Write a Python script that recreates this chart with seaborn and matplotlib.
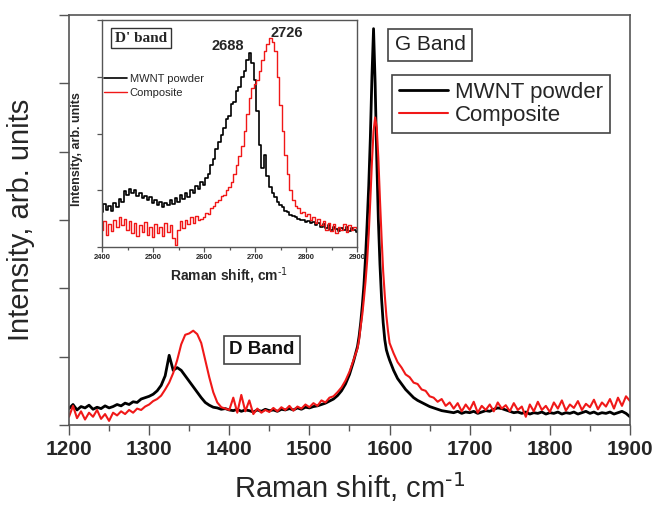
import numpy as np
import pandas as pd
import matplotlib
matplotlib.use("Agg")
import matplotlib.pyplot as plt
import seaborn as sns
from matplotlib.ticker import MultipleLocator, NullFormatter

# ---------------- data ----------------
wn_main = (list(range(1200, 1560, 5)) + list(range(1560, 1602, 2))
           + list(range(1605, 1905, 5)))

mwnt_main = [
    # 1200-1300
    0.24, 0.30, 0.22, 0.27, 0.25, 0.29, 0.23, 0.26, 0.24, 0.28,
    0.25, 0.27, 0.30, 0.28, 0.32, 0.30, 0.34, 0.33, 0.38, 0.40, 0.42,
    # 1305-1400
    0.45, 0.50, 0.58, 0.72, 1.02, 0.80, 0.84, 0.80, 0.72, 0.64,
    0.56, 0.48, 0.40, 0.33, 0.29, 0.26, 0.25, 0.23, 0.24, 0.22,
    # 1405-1555
    0.21, 0.23, 0.20, 0.22, 0.21, 0.19, 0.22, 0.20, 0.23, 0.21,
    0.22, 0.20, 0.23, 0.22, 0.24, 0.22, 0.25, 0.23, 0.26, 0.25,
    0.27, 0.28, 0.30, 0.32, 0.35, 0.38, 0.43, 0.50, 0.60, 0.74, 0.93,
    # 1560-1600 (step 2)
    1.15, 1.30, 1.50, 1.75, 2.05, 2.45, 2.95, 3.50, 4.20, 5.10,
    5.80, 5.00, 3.90, 3.00, 2.35, 1.85, 1.50, 1.25, 1.10, 1.02, 0.95,
    # 1605-1675
    0.80, 0.68, 0.60, 0.52, 0.46, 0.40, 0.36, 0.33, 0.30, 0.27,
    0.25, 0.23, 0.21, 0.20, 0.19,
    # 1680-1900
    0.18, 0.20, 0.17, 0.19, 0.18, 0.20, 0.17, 0.19, 0.21, 0.20,
    0.23, 0.25, 0.24, 0.22, 0.20, 0.18, 0.19, 0.17, 0.19, 0.16,
    0.18, 0.17, 0.19, 0.16, 0.18, 0.17, 0.19, 0.16, 0.18, 0.17,
    0.19, 0.16, 0.18, 0.20, 0.17, 0.19, 0.16, 0.18, 0.17, 0.19,
    0.16, 0.18, 0.20, 0.17, 0.12,
]

composite_main = [
    # 1200-1300
    0.12, 0.28, 0.10, 0.20, 0.08, 0.18, 0.12, 0.22, 0.09, 0.16,
    0.06, 0.18, 0.14, 0.20, 0.16, 0.22, 0.18, 0.24, 0.22, 0.27, 0.30,
    # 1305-1400
    0.35, 0.38, 0.43, 0.52, 0.62, 0.76, 0.95, 1.18, 1.32, 1.34,
    1.38, 1.33, 1.20, 0.95, 0.70, 0.48, 0.33, 0.26, 0.24, 0.22,
    # 1405-1555
    0.40, 0.18, 0.44, 0.20, 0.36, 0.16, 0.24, 0.18, 0.22, 0.19,
    0.25, 0.20, 0.26, 0.22, 0.28, 0.21, 0.27, 0.24, 0.30, 0.26,
    0.32, 0.28, 0.36, 0.33, 0.40, 0.42, 0.48, 0.55, 0.65, 0.78, 0.95,
    # 1560-1600 (step 2)
    1.12, 1.25, 1.45, 1.62, 1.85, 2.10, 2.40, 2.80, 3.30, 3.85,
    4.30, 4.50, 4.35, 3.90, 3.30, 2.75, 2.25, 1.90, 1.60, 1.38, 1.20,
    # 1605-1675
    1.05, 0.92, 0.84, 0.74, 0.70, 0.62, 0.60, 0.52, 0.50, 0.42,
    0.40, 0.34, 0.38, 0.28, 0.33,
    # 1680-1900
    0.24, 0.32, 0.20, 0.30, 0.22, 0.34, 0.18, 0.28, 0.22, 0.30,
    0.20, 0.33, 0.24, 0.29, 0.20, 0.32, 0.22, 0.27, 0.12, 0.30,
    0.20, 0.34, 0.22, 0.28, 0.19, 0.33, 0.24, 0.36, 0.21, 0.30,
    0.25, 0.35, 0.22, 0.31, 0.26, 0.37, 0.23, 0.33, 0.27, 0.38,
    0.24, 0.40, 0.28, 0.42, 0.35,
]

wn_inset = list(range(2400, 2905, 5))

mwnt_inset = [
    0.62, 0.75, 0.66, 0.72, 0.64, 0.78, 0.70, 0.85, 0.80, 0.98,
    0.92, 1.02, 0.95, 1.00, 0.90, 0.96, 0.86, 0.90, 0.82, 0.88,
    0.78, 0.82, 0.74, 0.80, 0.70, 0.78, 0.74, 0.82, 0.76, 0.86,
    0.80, 0.92, 0.84, 0.95, 0.88, 1.00, 0.95, 1.08, 1.02, 1.15,
    1.10, 1.22, 1.28, 1.45, 1.55, 1.72, 1.85, 1.98, 2.10, 2.25,
    2.30, 2.52, 2.55, 2.75, 2.82, 3.00, 3.10, 3.30, 3.42, 3.25,
    2.95, 2.40, 1.80, 1.40, 1.62, 1.25, 1.05, 0.95, 0.88, 0.80,
    0.74, 0.70, 0.64, 0.62, 0.56, 0.55, 0.52, 0.50, 0.47, 0.48,
    0.44, 0.46, 0.42, 0.44, 0.38, 0.42, 0.36, 0.40, 0.34, 0.38,
    0.30, 0.36, 0.32, 0.28, 0.34, 0.30, 0.35, 0.28, 0.33, 0.30,
    0.26,
]

composite_inset = [
    0.30, 0.45, 0.22, 0.40, 0.28, 0.48, 0.35, 0.52, 0.38, 0.50,
    0.30, 0.46, 0.25, 0.42, 0.20, 0.38, 0.26, 0.44, 0.22, 0.36,
    0.18, 0.40, 0.24, 0.35, 0.20, 0.42, 0.26, 0.38, 0.15, 0.04,
    0.30, 0.45, 0.34, 0.48, 0.40, 0.52, 0.42, 0.55, 0.48, 0.50,
    0.52, 0.60, 0.58, 0.68, 0.72, 0.80, 0.82, 0.90, 0.92, 1.00,
    1.05, 1.15, 1.28, 1.45, 1.60, 1.78, 2.05, 2.35, 2.62, 2.80,
    2.88, 2.95, 3.10, 3.30, 3.45, 3.58, 3.68, 3.62, 3.45, 3.00,
    2.50, 2.05, 1.62, 1.28, 1.00, 0.82, 0.72, 0.68, 0.60, 0.62,
    0.55, 0.58, 0.48, 0.52, 0.42, 0.50, 0.38, 0.46, 0.30, 0.42,
    0.28, 0.40, 0.25, 0.36, 0.30, 0.40, 0.26, 0.38, 0.30, 0.36,
    0.34,
]

series_names = ["MWNT powder", "Composite"]
main_xticks = [1200, 1300, 1400, 1500, 1600, 1700, 1800, 1900]
inset_xticks = [2400, 2500, 2600, 2700, 2800, 2900]

# ---------------- style ----------------
sns.set_theme(style="white")
plt.rcParams["font.family"] = ["Liberation Sans", "DejaVu Sans"]
BLACK = "#000000"
RED = "#f01818"
SPINE = "#555555"
XLABEL = "Raman shift, cm$^{\\text{-1}}$"

fig = plt.figure(figsize=(6.53, 5.05), dpi=100)
ax = fig.add_axes([69 / 653, 80 / 505, 561 / 653, 410 / 505])

sns.lineplot(x=wn_main, y=mwnt_main, color=BLACK, lw=2.0,
             label=series_names[0], estimator=None, ax=ax)
sns.lineplot(x=wn_main, y=composite_main, color=RED, lw=1.5,
             label=series_names[1], estimator=None, ax=ax)

ax.set_xlim(1200, 1900)
ax.set_ylim(0, 6)
ax.set_xticks(main_xticks)
ax.xaxis.set_minor_locator(MultipleLocator(50))
ax.set_yticks(range(0, 7))
ax.yaxis.set_major_formatter(NullFormatter())
ax.tick_params(axis="x", which="both", bottom=True, direction="out",
               color=SPINE, labelsize=15)
ax.tick_params(axis="x", which="major", length=7, width=1)
ax.tick_params(axis="x", which="minor", length=4, width=1)
ax.tick_params(axis="y", which="major", left=True, direction="out",
               length=7, width=1, color=SPINE)
for lab in ax.get_xticklabels():
    lab.set_fontweight("bold")
for s in ax.spines.values():
    s.set_color(SPINE)
    s.set_linewidth(1.2)

ax.set_xlabel(XLABEL, fontsize=21, labelpad=8)
ax.set_ylabel("Intensity, arb. units", fontsize=21, labelpad=14)

leg = ax.legend(loc="upper left", bbox_to_anchor=(392 / 653, 1 - 75 / 505),
                bbox_transform=fig.transFigure, fontsize=16, frameon=True,
                fancybox=False, edgecolor="#444444", framealpha=1,
                handlelength=2.2, handletextpad=0.35, borderpad=0.3,
                labelspacing=0.1, borderaxespad=0)
leg.get_frame().set_linewidth(1.2)

box = dict(boxstyle="square,pad=0.3", fc="white", ec="#444444", lw=1.2)
fig.text(430 / 653, 1 - 45 / 505, "G Band", fontsize=15, ha="center",
         va="center", color="#222222", bbox=box)
fig.text(262 / 653, 1 - 350 / 505, "D Band", fontsize=13.5, fontweight="bold",
         ha="center", va="center", color="#111111", bbox=box)

# ---------------- inset ----------------
ax_in = fig.add_axes([102 / 653, (505 - 247) / 505, 255 / 653, 227 / 505])
ax_in.set_facecolor("white")
sns.lineplot(x=wn_inset, y=mwnt_inset, color=BLACK, lw=1.2,
             drawstyle="steps-mid", label=series_names[0],
             estimator=None, ax=ax_in)
sns.lineplot(x=wn_inset, y=composite_inset, color=RED, lw=1.0,
             drawstyle="steps-mid", label=series_names[1],
             estimator=None, ax=ax_in)
ax_in.set_xlim(2400, 2900)
ax_in.set_ylim(0, 4)
ax_in.set_xticks(inset_xticks)
ax_in.xaxis.set_minor_locator(MultipleLocator(50))
ax_in.set_yticks(range(0, 5))
ax_in.yaxis.set_major_formatter(NullFormatter())
ax_in.tick_params(axis="x", which="both", bottom=True, direction="out",
                  color=SPINE, labelsize=5.5, pad=1.5)
ax_in.tick_params(axis="x", which="major", length=3.5, width=0.9)
ax_in.tick_params(axis="x", which="minor", length=2, width=0.9)
ax_in.tick_params(axis="y", which="major", left=True, direction="out",
                  length=3.5, width=0.9, color=SPINE)
for lab in ax_in.get_xticklabels():
    lab.set_fontweight("bold")
for s in ax_in.spines.values():
    s.set_color(SPINE)
    s.set_linewidth(1.0)
ax_in.set_xlabel(XLABEL, fontsize=10, fontweight="bold", labelpad=3)
ax_in.set_ylabel("Intensity, arb. units", fontsize=9, fontweight="bold")
ax_in.yaxis.set_label_coords(-0.075, 0.43)

leg_in = ax_in.legend(loc="upper left",
                      bbox_to_anchor=(104 / 653, 1 - 74 / 505),
                      bbox_transform=fig.transFigure, fontsize=8,
                      frameon=False, handlelength=2.1, handletextpad=0.2,
                      labelspacing=0.35, borderaxespad=0, borderpad=0)

box_in = dict(boxstyle="square,pad=0.25", fc="white", ec="#333333", lw=1.0)
fig.text(141 / 653, 1 - 38 / 505, "D' band", fontsize=11, fontweight="bold",
         family=["Liberation Serif", "DejaVu Serif"], ha="center",
         va="center", bbox=box_in)
fig.text(228 / 653, 1 - 46 / 505, "2688", fontsize=10.5, fontweight="bold",
         ha="center", va="center")
fig.text(287 / 653, 1 - 33 / 505, "2726", fontsize=10.5, fontweight="bold",
         ha="center", va="center")

fig.savefig("out.png", dpi=100)
